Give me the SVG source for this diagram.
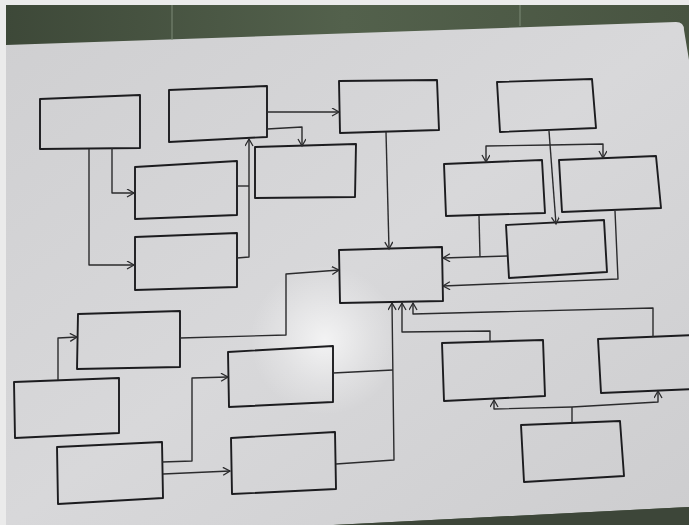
<svg xmlns="http://www.w3.org/2000/svg" width="689" height="525" viewBox="0 0 689 525">
  <defs>
    <linearGradient id="floor" x1="0" y1="0" x2="1" y2="0">
      <stop offset="0" stop-color="#3d4838"/>
      <stop offset="0.5" stop-color="#53614c"/>
      <stop offset="1" stop-color="#485441"/>
    </linearGradient>
    <linearGradient id="paper" x1="0" y1="0" x2="1" y2="1">
      <stop offset="0" stop-color="#cfcfd1"/>
      <stop offset="0.5" stop-color="#d8d8da"/>
      <stop offset="1" stop-color="#cdcdcf"/>
    </linearGradient>
    <radialGradient id="glare" cx="325" cy="340" r="75" gradientUnits="userSpaceOnUse">
      <stop offset="0" stop-color="#ffffff" stop-opacity="0.7"/>
      <stop offset="0.6" stop-color="#ffffff" stop-opacity="0.25"/>
      <stop offset="1" stop-color="#ffffff" stop-opacity="0"/>
    </radialGradient>
    <marker id="arr" markerUnits="userSpaceOnUse" markerWidth="12" markerHeight="12" refX="8" refY="4" orient="auto">
      <path d="M1,0 L8,4 L1,8" fill="none" stroke="#2b2b2d" stroke-width="1.3"/>
    </marker>
  </defs>
  <style>
    .box { fill: none; stroke: #1c1c1f; stroke-width: 1.9; stroke-linejoin: round; }
    .c { fill: none; stroke: #2b2b2d; stroke-width: 1.4; stroke-linejoin: round; }
    .a { marker-end: url(#arr); }
  </style>

  <!-- background: floor, paper, glare -->
  <rect x="0" y="0" width="689" height="525" fill="url(#floor)"/>
  <path d="M6,45 L676,22 Q684,22 684,30 L689,60 L689,507 L333,525 L6,525 Z" fill="url(#paper)"/>
  <path d="M333,525 L689,507 L689,525 Z" fill="#3d4639"/>
  <line x1="172" y1="5" x2="172" y2="40" stroke="#7d8a76" stroke-width="1"/>
  <line x1="520" y1="5" x2="520" y2="26" stroke="#7d8a76" stroke-width="1"/>
  <rect x="0" y="0" width="689" height="5" fill="#ebebeb"/>
  <rect x="0" y="0" width="6" height="525" fill="#ebebeb"/>
  <ellipse cx="325" cy="340" rx="75" ry="75" fill="url(#glare)"/>

  <!-- nodes -->
  <g id="nodeA"><polygon class="box" points="40,99 140,95 140,148 40,149"/></g>
  <g id="nodeB"><polygon class="box" points="169,90 267,86 267,137 169,142"/></g>
  <g id="nodeC"><polygon class="box" points="339,81 437,80 439,130 340,133"/></g>
  <g id="nodeD"><polygon class="box" points="497,82 592,79 596,128 500,132"/></g>
  <g id="nodeE"><polygon class="box" points="135,167 237,161 237,215 135,219"/></g>
  <g id="nodeF"><polygon class="box" points="255,147 356,144 355,197 255,198"/></g>
  <g id="nodeG"><polygon class="box" points="135,237 237,233 237,287 135,290"/></g>
  <g id="nodeH"><polygon class="box" points="444,164 542,160 545,213 446,216"/></g>
  <g id="nodeI"><polygon class="box" points="559,160 656,156 661,208 562,212"/></g>
  <g id="nodeJ"><polygon class="box" points="506,225 604,220 607,272 509,278"/></g>
  <g id="nodeK"><polygon class="box" points="339,250 442,247 443,301 340,303"/></g>
  <g id="nodeL"><polygon class="box" points="78,314 180,311 180,367 77,369"/></g>
  <g id="nodeM"><polygon class="box" points="14,382 119,378 119,433 15,438"/></g>
  <g id="nodeN"><polygon class="box" points="228,352 333,346 333,402 229,407"/></g>
  <g id="nodeO"><polygon class="box" points="57,447 162,442 163,498 58,504"/></g>
  <g id="nodeP"><polygon class="box" points="231,438 335,432 336,489 232,494"/></g>
  <g id="nodeQ"><polygon class="box" points="442,343 543,340 545,396 444,401"/></g>
  <g id="nodeR"><polygon class="box" points="598,339 695,335 695,389 601,393"/></g>
  <g id="nodeS"><polygon class="box" points="521,425 620,421 624,476 524,482"/></g>

  <!-- connectors -->
  <g id="connectors">
    <polyline class="c a" points="112,148 112,193 134,193"/>
    <polyline class="c a" points="89,149 89,265 134,265"/>
    <polyline class="c" points="237,186 249,186"/>
    <polyline class="c a" points="237,258 249,257 249,139"/>
    <polyline class="c a" points="267,112 339,112"/>
    <polyline class="c a" points="267,129 302,127 302,146"/>
    <polyline class="c a" points="386,132 389,249"/>
    <polyline class="c a" points="549,131 556,224"/>
    <polyline class="c a" points="550,145 486,146 486,162"/>
    <polyline class="c a" points="550,145 603,144 603,158"/>
    <polyline class="c" points="479,216 480,257"/>
    <polyline class="c a" points="507,256 443,258"/>
    <polyline class="c a" points="615,211 618,279 443,286"/>
    <polyline class="c a" points="180,338 286,335 286,274 339,270"/>
    <polyline class="c a" points="58,380 58,338 77,337"/>
    <polyline class="c a" points="162,462 192,461 192,378 228,377"/>
    <polyline class="c a" points="163,474 230,471"/>
    <polyline class="c a" points="336,464 394,460 392,303"/>
    <polyline class="c" points="333,373 393,370"/>
    <polyline class="c a" points="490,342 490,331 402,332 402,303"/>
    <polyline class="c a" points="653,337 653,308 413,314 413,303"/>
    <polyline class="c" points="572,423 572,407"/>
    <polyline class="c a" points="572,407 494,409 494,400"/>
    <polyline class="c a" points="572,407 658,402 658,391"/>
  </g>
</svg>
